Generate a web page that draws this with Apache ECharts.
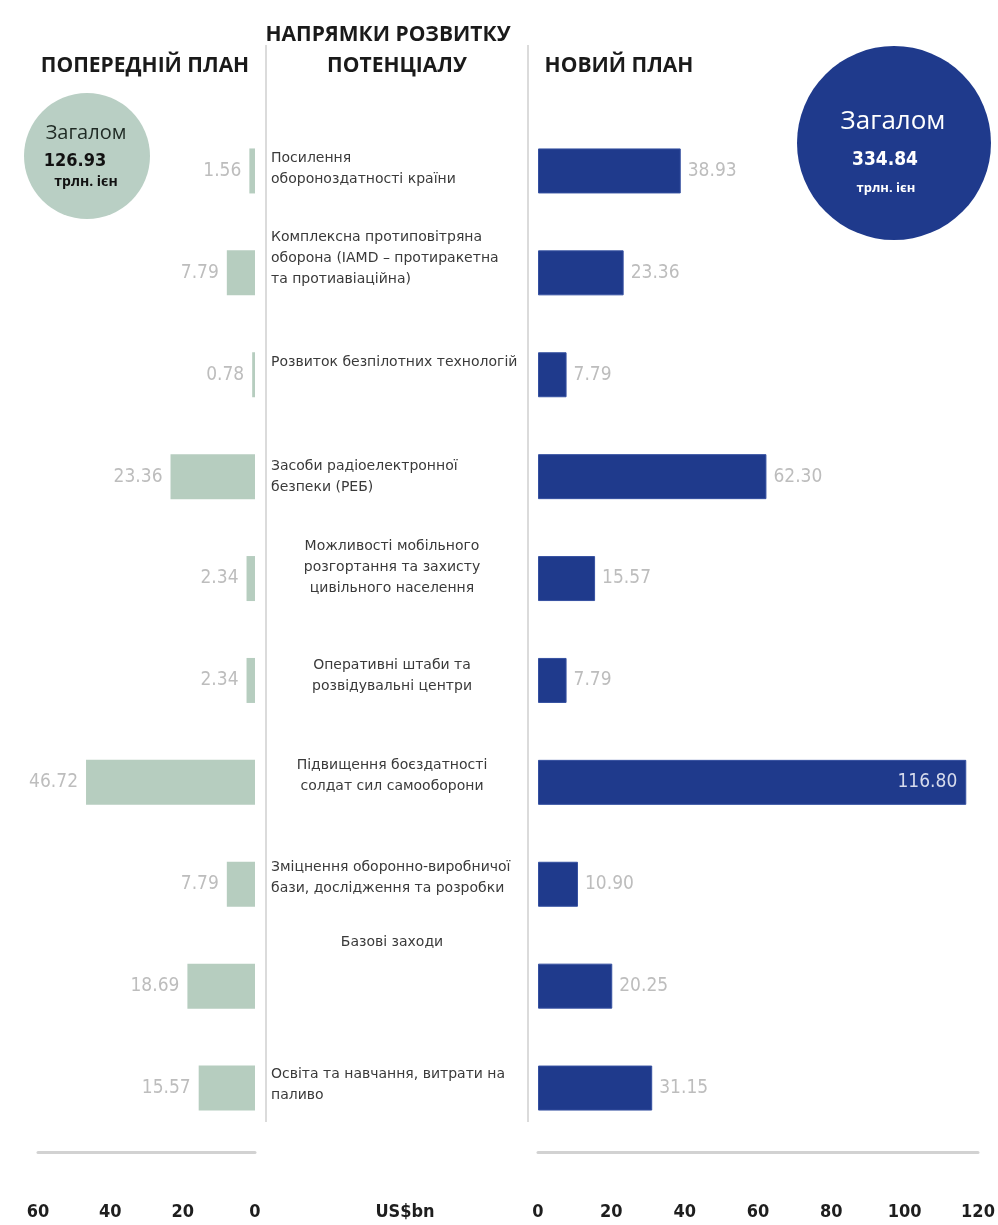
<!DOCTYPE html>
<html><head><meta charset="utf-8">
<script src="https://cdn.jsdelivr.net/npm/echarts@6/dist/echarts.min.js"></script>
<style>html,body{margin:0;padding:0;background:#fff}#c{width:998px;height:1225px}</style>
</head><body><div id="c"></div>
<script>
// ---------- data ----------
const categories = [
  'Посилення\nобороноздатності країни',
  'Комплексна протиповітряна\nоборона (IAMD – протиракетна\nта протиавіаційна)',
  'Розвиток безпілотних технологій',
  'Засоби радіоелектронної\nбезпеки (РЕБ)',
  'Можливості мобільного\nрозгортання та захисту\nцивільного населення',
  'Оперативні штаби та\nрозвідувальні центри',
  'Підвищення боєздатності\nсолдат сил самооборони',
  'Зміцнення оборонно-виробничої\nбази, дослідження та розробки',
  'Базові заходи',
  'Освіта та навчання, витрати на\nпаливо'
];
const previousPlan = [1.56, 7.79, 0.78, 23.36, 2.34, 2.34, 46.72, 7.79, 18.69, 15.57];
const newPlan = [38.93, 23.36, 7.79, 62.30, 15.57, 7.79, 116.80, 10.90, 20.25, 31.15];
const previousAxisMax = 60;
const newAxisMax = 120;
const tickStep = 20;
const totals = ['126.93', '334.84'];
const totalWord = 'Загалом';
const totalUnit = 'трлн. ієн';
const headers = ['ПОПЕРЕДНІЙ ПЛАН', 'НАПРЯМКИ РОЗВИТКУ', 'ПОТЕНЦІАЛУ', 'НОВИЙ ПЛАН'];
const unitLabel = 'US$bn';

// ---------- styling / layout ----------
const GREEN = '#b6cdbf';
const NAVY = '#1f3a8c';
const labelAlign = ['l','l','l','l','c','c','c','l','c','l'];
const labelRaise = [2, 14, 12, 0, 11, 5, 6, 6, 44, 3];
const numFont = "'Liberation Sans Narrow', 'DejaVu Sans Condensed', sans-serif";
const catFont = { fontSize: 14, lineHeight: 21, color: '#3a3a3a', fontFamily: 'DejaVu Sans' };
const catRich = {
  l: Object.assign({ width: 252, align: 'left' }, catFont),
  c: Object.assign({ width: 242, align: 'center' }, catFont)
};
labelRaise.forEach((r, i) => { if (r > 0) catRich['sp' + i] = { height: r * 2, lineHeight: r * 2, fontSize: 1, width: 1 }; });

const chart = echarts.init(document.getElementById('c'), null, { renderer: 'canvas' });

const gridTop = 120, gridH = 1019;
const option = {
  animation: false,
  backgroundColor: '#fff',
  grid: [
    { left: 38, width: 217, top: gridTop, height: gridH },
    { left: 538, width: 440, top: gridTop, height: gridH }
  ],
  xAxis: [
    { gridIndex: 0, type: 'value', inverse: true, min: 0, max: previousAxisMax, interval: tickStep,
      axisLine: { show: true, onZero: false, lineStyle: { color: '#d2d2d2', width: 3 } }, offset: 13,
      axisTick: { show: false }, splitLine: { show: false },
      axisLabel: { margin: 51, color: '#1e1e1e', fontSize: 18, fontWeight: 'bold', fontFamily: numFont } },
    { gridIndex: 1, type: 'value', min: 0, max: newAxisMax, interval: tickStep,
      axisLine: { show: true, onZero: false, lineStyle: { color: '#d2d2d2', width: 3 } }, offset: 13,
      axisTick: { show: false }, splitLine: { show: false },
      axisLabel: { margin: 51, color: '#1e1e1e', fontSize: 18, fontWeight: 'bold', fontFamily: numFont } }
  ],
  yAxis: [
    { gridIndex: 0, type: 'category', inverse: true, data: categories,
      axisLine: { show: false }, axisTick: { show: false }, axisLabel: { show: false } },
    { gridIndex: 1, type: 'category', inverse: true, data: categories,
      axisLine: { show: false }, axisTick: { show: false },
      axisLabel: {
        interval: 0, margin: 267, align: 'left', rich: catRich,
        formatter: (v, i) => {
          const k = labelAlign[i];
          let s = v.split('\n').map(t => '{' + k + '|' + t + '}').join('\n');
          if (labelRaise[i] > 0) s += '\n{sp' + i + '| }';
          return s;
        }
      } }
  ],
  series: [
    { type: 'bar', xAxisIndex: 0, yAxisIndex: 0, data: previousPlan, barWidth: 45,
      itemStyle: { color: GREEN },
      label: { show: true, position: 'left', distance: 8, color: '#bdbdbd', fontSize: 19, fontFamily: numFont,
        formatter: p => p.value.toFixed(2) } },
    { type: 'bar', xAxisIndex: 1, yAxisIndex: 1, barWidth: 45,
      data: newPlan.map(v => v > newAxisMax * 0.85
        ? { value: v, label: { position: 'insideRight', distance: 9, color: '#d6dbec' } }
        : v),
      itemStyle: { color: NAVY, borderColor: '#3550a0', borderWidth: 1 },
      label: { show: true, position: 'right', distance: 7, color: '#bdbdbd', fontSize: 19, fontFamily: numFont,
        formatter: p => p.value.toFixed(2) } }
  ],
  graphic: [
    { type: 'line', shape: { x1: 266, y1: 45, x2: 266, y2: 1122 }, style: { stroke: '#cfcfcf', lineWidth: 1.5 } },
    { type: 'line', shape: { x1: 528, y1: 45, x2: 528, y2: 1122 }, style: { stroke: '#cfcfcf', lineWidth: 1.5 } },
    { type: 'text', x: 145, y: 66, style: { text: headers[0], align: 'center', verticalAlign: 'middle', fontSize: 21, fontWeight: 'bold', fontFamily: 'Open Sans', fill: '#1a1a1a' } },
    { type: 'text', x: 388, y: 35, style: { text: headers[1], align: 'center', verticalAlign: 'middle', fontSize: 21, fontWeight: 'bold', fontFamily: 'Open Sans', fill: '#1a1a1a' } },
    { type: 'text', x: 397, y: 66, style: { text: headers[2], align: 'center', verticalAlign: 'middle', fontSize: 21, fontWeight: 'bold', fontFamily: 'Open Sans', fill: '#1a1a1a' } },
    { type: 'text', x: 619, y: 66, style: { text: headers[3], align: 'center', verticalAlign: 'middle', fontSize: 21, fontWeight: 'bold', fontFamily: 'Open Sans', fill: '#1a1a1a' } },
    { type: 'circle', shape: { cx: 87, cy: 156, r: 63 }, style: { fill: '#b9cfc4' } },
    { type: 'text', x: 86, y: 133, style: { text: totalWord, align: 'center', verticalAlign: 'middle', fontSize: 20, fontFamily: 'Open Sans', fill: '#1f2a24' } },
    { type: 'text', x: 75, y: 161, style: { text: totals[0], align: 'center', verticalAlign: 'middle', fontSize: 18, fontWeight: 'bold', fontFamily: numFont, fill: '#111' } },
    { type: 'text', x: 86, y: 182, style: { text: totalUnit, align: 'center', verticalAlign: 'middle', fontSize: 14, fontWeight: 'bold', fontFamily: 'Open Sans', fill: '#111' } },
    { type: 'circle', shape: { cx: 894, cy: 143, r: 97 }, style: { fill: NAVY } },
    { type: 'text', x: 893, y: 122, style: { text: totalWord, align: 'center', verticalAlign: 'middle', fontSize: 26, fontFamily: 'Open Sans', fill: '#fff' } },
    { type: 'text', x: 885, y: 160, style: { text: totals[1], align: 'center', verticalAlign: 'middle', fontSize: 19, fontWeight: 'bold', fontFamily: numFont, fill: '#fff' } },
    { type: 'text', x: 886, y: 188, style: { text: totalUnit, align: 'center', verticalAlign: 'middle', fontSize: 13, fontWeight: 'bold', fontFamily: 'Open Sans', fill: '#fff' } },
    { type: 'text', x: 405, y: 1212, style: { text: unitLabel, align: 'center', verticalAlign: 'middle', fontSize: 18, fontWeight: 'bold', fontFamily: numFont, fill: '#1e1e1e' } }
  ]
};
chart.setOption(option);
</script>
</body></html>
